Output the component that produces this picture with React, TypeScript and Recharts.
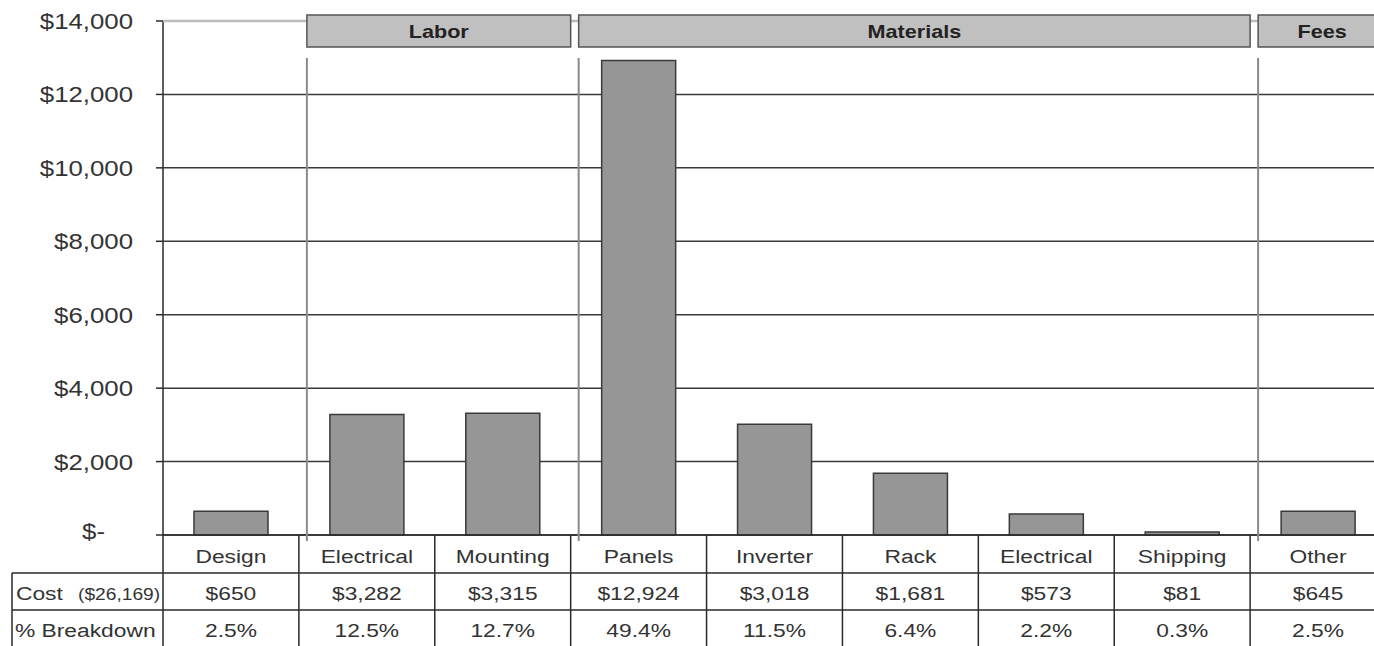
import { Bar, BarChart, CartesianGrid, XAxis, YAxis } from "recharts";

const categories = ["Design", "Electrical", "Mounting", "Panels", "Inverter", "Rack", "Electrical", "Shipping", "Other"];
const costs = [650, 3282, 3315, 12924, 3018, 1681, 573, 81, 645];
const shares = ["2.5%", "12.5%", "12.7%", "49.4%", "11.5%", "6.4%", "2.2%", "0.3%", "2.5%"];
const groups = [
  { name: "Labor", first: 1, span: 2 },
  { name: "Materials", first: 3, span: 5 },
  { name: "Fees", first: 8, span: 1 },
];
const yTicks = [0, 2000, 4000, 6000, 8000, 10000, 12000, 14000];
const totalCost = 26169;
const rowLabels = ["Cost", "% Breakdown"];

const data = categories.map((name, i) => ({ id: `${i}-${name}`, name, cost: costs[i] }));

const W = 1386;
const H = 646;
const LEFT = 163;
const TOP = 21;
const AXIS_H = 111;
const BOTTOM = H - AXIS_H;
const BW = (W - LEFT) / categories.length;
const SX = 1.2;
const FONT = "'Liberation Sans', Arial, sans-serif";
const LINE = "#2a2a2a";
const TEXT = "#333";

const money = (v: number) => "$" + v.toLocaleString("en-US");

function Txt({ x, y, children, size = 19, anchor = "middle", weight = 400, fill = TEXT }: any) {
  return (
    <text transform={`translate(${x},${y}) scale(${SX},1)`} textAnchor={anchor} fontSize={size} fontWeight={weight} fontFamily={FONT} fill={fill}>
      {children}
    </text>
  );
}

function YTick({ x, y, payload }: any) {
  const v = payload.value as number;
  return v === 0 ? (
    <Txt x={x - 28} y={y + 4} size={21.5} anchor="end">$-</Txt>
  ) : (
    <Txt x={x} y={y + 8} size={21.5} anchor="end">{money(v)}</Txt>
  );
}

// group header box and separator line, drawn at the first category of each group
function GroupMark({ i, l }: { i: number; l: number }) {
  const g = groups.find((gr) => gr.first === i);
  if (!g) return null;
  const w = g.span * BW - 8;
  return (
    <g>
      <line x1={l + 8} x2={l + 8} y1={58} y2={BOTTOM + 6} stroke="#8a8a8a" strokeWidth={2} />
      <rect x={l + 8} y={15} width={w} height={32} fill="#c0c0c0" stroke="#555" strokeWidth={1.5} />
      <Txt x={l + 8 + w / 2} y={38} size={18} weight={700} fill="#222">{g.name}</Txt>
    </g>
  );
}

function TableTick({ x, payload }: any) {
  const i = payload.index as number;
  const l = x - BW / 2;
  const r = x + BW / 2;
  const top = BOTTOM;
  return (
    <g>
      {i === 0 && <line x1={LEFT} x2={W} y1={TOP} y2={TOP} stroke="#bdbdbd" strokeWidth={2.5} />}
      <GroupMark i={i} l={l} />
      <line x1={r} x2={r} y1={top} y2={H} stroke={LINE} strokeWidth={1.5} />
      <line x1={l} x2={r} y1={top + 38} y2={top + 38} stroke={LINE} strokeWidth={1.5} />
      <line x1={l} x2={r} y1={top + 75} y2={top + 75} stroke={LINE} strokeWidth={1.5} />
      {i === 0 && (
        <g>
          <line x1={LEFT} x2={LEFT} y1={top} y2={H} stroke={LINE} strokeWidth={1.5} />
          <line x1={12} x2={12} y1={top + 38} y2={H} stroke={LINE} strokeWidth={1.5} />
          <line x1={12} x2={LEFT} y1={top + 38} y2={top + 38} stroke={LINE} strokeWidth={1.5} />
          <line x1={12} x2={LEFT} y1={top + 75} y2={top + 75} stroke={LINE} strokeWidth={1.5} />
          <Txt x={16} y={top + 65} anchor="start">{rowLabels[0]}</Txt>
          <Txt x={78} y={top + 65} size={16} anchor="start">{`(${money(totalCost)})`}</Txt>
          <Txt x={15} y={top + 102} anchor="start">{rowLabels[1]}</Txt>
        </g>
      )}
      <Txt x={x} y={top + 28}>{categories[i]}</Txt>
      <Txt x={x} y={top + 65}>{money(costs[i])}</Txt>
      <Txt x={x} y={top + 102}>{shares[i]}</Txt>
    </g>
  );
}

export default function App() {
  return (
    <div style={{ position: "absolute", left: 0, top: 0, width: 1374, height: H, overflow: "hidden", background: "#fff" }}>
      <BarChart width={W} height={H} data={data} margin={{ top: TOP, right: 0, bottom: 0, left: 0 }}>
        <CartesianGrid vertical={false} stroke="#3a3a3a" strokeWidth={1.5} />
        <YAxis
          type="number"
          domain={[0, 14000]}
          ticks={yTicks}
          interval={0}
          width={LEFT}
          tickSize={7}
          tickMargin={23}
          tick={<YTick />}
          axisLine={{ stroke: LINE, strokeWidth: 1.5 }}
          tickLine={{ stroke: LINE, strokeWidth: 1.5 }}
        />
        <XAxis
          dataKey="id"
          height={AXIS_H}
          interval={0}
          tickSize={0}
          tickLine={false}
          axisLine={{ stroke: LINE, strokeWidth: 1.5 }}
          tick={<TableTick />}
        />
        <Bar dataKey="cost" fill="#969696" stroke="#3a3a3a" strokeWidth={1.5} barSize={74} isAnimationActive={false} />
      </BarChart>
    </div>
  );
}
